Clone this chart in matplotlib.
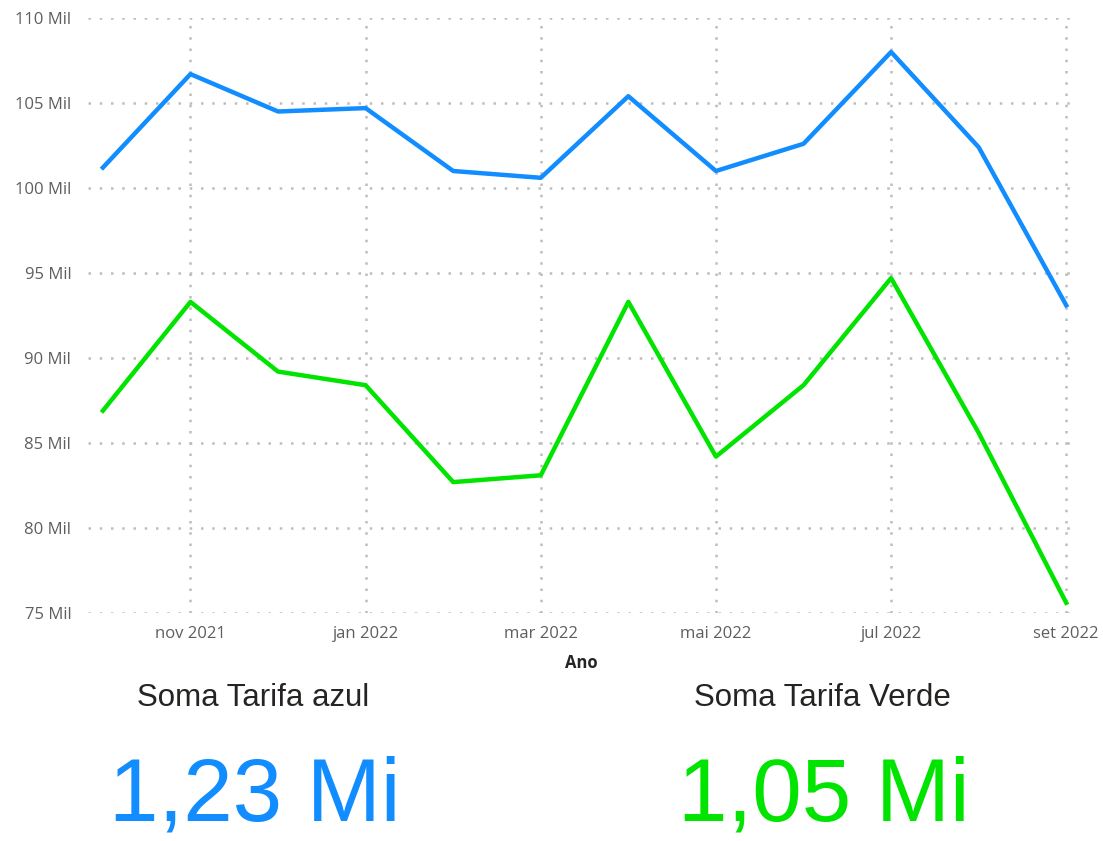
import matplotlib
matplotlib.use("Agg")
import matplotlib.pyplot as plt
import numpy as np

months = ["out 2021", "nov 2021", "dez 2021", "jan 2022", "fev 2022", "mar 2022",
          "abr 2022", "mai 2022", "jun 2022", "jul 2022", "ago 2022", "set 2022"]
tarifa_azul = [101.2, 106.7, 104.5, 104.7, 101.0, 100.6, 105.4, 101.0, 102.6, 108.0, 102.4, 93.1]
tarifa_verde = [86.9, 93.3, 89.2, 88.4, 82.7, 83.1, 93.3, 84.2, 88.4, 94.7, 85.6, 75.6]
yticks = [75, 80, 85, 90, 95, 100, 105, 110]
ytick_labels = [f"{v} Mil" for v in yticks]
xtick_idx = [1, 3, 5, 7, 9, 11]
card_titles = ["Soma Tarifa azul", "Soma Tarifa Verde"]
card_values = ["1,23 Mi", "1,05 Mi"]

BLUE = "#118DFF"
GREEN = "#00E400"
GRAY = "#605E5C"

fig = plt.figure(figsize=(11.03, 8.41), dpi=100)
ax = fig.add_axes([88/1103, 1-613/841, (1075-88)/1103, (613-18)/841])

x = np.arange(len(months))
ax.plot(x, tarifa_azul, color=BLUE, lw=3.2, solid_joinstyle="round", zorder=3)
ax.plot(x, tarifa_verde, color=GREEN, lw=3.2, solid_joinstyle="round", zorder=3)

ax.set_xlim(-0.17, 11.1)
ax.set_ylim(75, 110)
ax.set_yticks(yticks)
ax.set_yticklabels(ytick_labels)
ax.set_xticks(xtick_idx)
ax.set_xticklabels([months[i] for i in xtick_idx])

for s in ax.spines.values():
    s.set_visible(False)
ax.tick_params(length=0, labelsize=12, labelcolor=GRAY)
ax.tick_params(axis="y", pad=12)
ax.tick_params(axis="x", pad=9)
for lab in ax.get_xticklabels() + ax.get_yticklabels():
    lab.set_fontfamily("Open Sans")

ax.grid(True, color="#BDBDBD", linestyle=(0, (1, 3.5)), lw=1.8, zorder=0)
ax.set_xlabel("Ano", fontfamily="Open Sans", fontweight="bold", fontsize=12,
              color="#252423", labelpad=9)

# cards
for cx, title, val, col in [(253, card_titles[0], card_values[0], BLUE),
                            (822, card_titles[1], card_values[1], GREEN)]:
    fig.text(cx/1103, 1-698/841, title, ha="center", va="center",
             fontfamily="Liberation Sans", fontsize=22.5, color="#252423")
    fig.text((cx+2)/1103, 1-798/841, val, ha="center", va="center",
             fontfamily="Liberation Sans", fontsize=64, color=col)

fig.savefig("out.png", dpi=100, facecolor="white")
